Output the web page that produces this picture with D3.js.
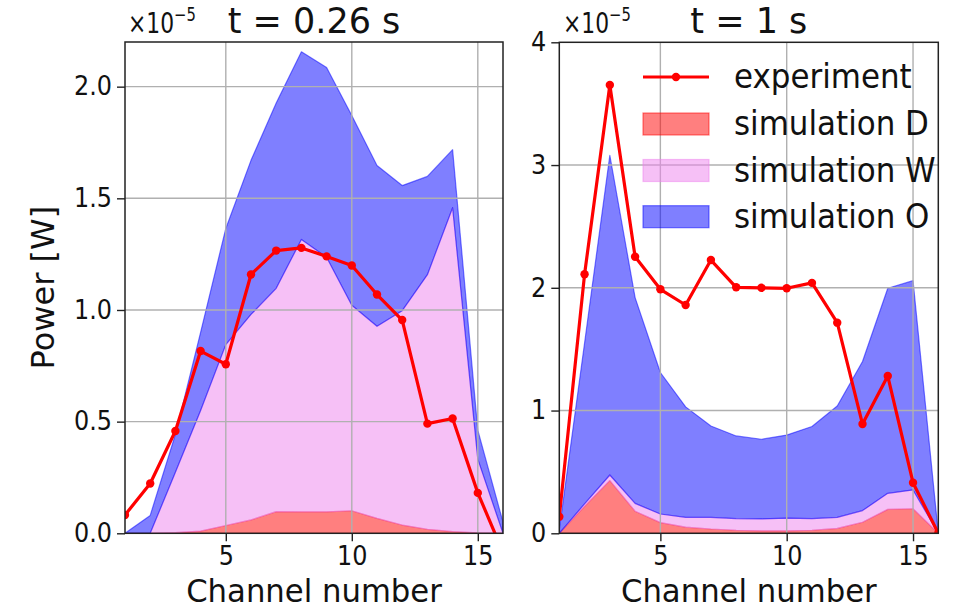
<!DOCTYPE html>
<html>
<head>
<meta charset="utf-8">
<script src="https://cdn.jsdelivr.net/npm/d3@7"></script>
<style>
  body { margin: 0; background: #fff; }
  svg { display: block; font-family: "DejaVu Sans", sans-serif; }
</style>
</head>
<body>
<svg id="chart" width="958" height="609"></svg>
<script>
// Power per channel, in units of 1e-5 W
const channels = [1, 2, 3, 4, 5, 6, 7, 8, 9, 10, 11, 12, 13, 14, 15, 16];

// t = 0.26 s
const earlyExperiment = [0.082, 0.223, 0.458, 0.816, 0.757, 1.159, 1.266, 1.278, 1.24, 1.199, 1.069, 0.955, 0.491, 0.514, 0.181, -0.085];
const earlySimD = [0, 0, 0.003, 0.01, 0.035, 0.06, 0.097, 0.096, 0.096, 0.101, 0.067, 0.037, 0.018, 0.008, 0.002, 0];
const earlySimW = [0, 0, 0.27, 0.54, 0.81, 0.92, 1.00, 1.22, 1.14, 0.92, 0.86, 0.96, 1.14, 1.45, 0.33, 0];
const earlySimO = [0, 0.08, 0.17, 0.35, 0.52, 0.69, 0.83, 0.84, 0.85, 0.85, 0.72, 0.56, 0.44, 0.26, 0.13, 0.05];

// t = 1 s
const lateExperiment = [0.135, 2.11, 3.652, 2.253, 1.988, 1.86, 2.226, 2.004, 2.0, 1.996, 2.04, 1.716, 0.89, 1.281, 0.412, 0.0];
const lateSimD = [0, 0.22, 0.43, 0.18, 0.087, 0.05, 0.035, 0.025, 0.02, 0.02, 0.025, 0.04, 0.09, 0.195, 0.2, 0];
const lateSimW = [0, 0.02, 0.045, 0.064, 0.07, 0.08, 0.095, 0.095, 0.097, 0.103, 0.095, 0.09, 0.095, 0.131, 0.153, 0];
const lateSimO = [0.03, 1.31, 2.605, 1.676, 1.153, 0.90, 0.744, 0.673, 0.649, 0.677, 0.75, 0.907, 1.215, 1.67, 1.705, 0];

const panelTitles = ["t = 0.26 s", "t = 1 s"];
const earlyYTicks = [0, 0.5, 1.0, 1.5, 2.0];
const lateYTicks = [0, 1, 2, 3, 4];
const xTicks = [5, 10, 15];
const legendLabels = ["experiment", "simulation D", "simulation W", "simulation O"];
const layerKeys = ["D", "W", "O"];

const colors = {
  experiment: "#ff0000",
  D: "#ff0000",
  W: "#ee82ee",
  O: "#0000ff"
};

const svg = d3.select("#chart");

// text helper: a slightly narrowed glyph set, anchored at (x, y)
function addText(parent, x, y, str, size, sx, anchor) {
  const holder = parent.append("g")
    .attr("transform", `translate(${x},${y}) scale(${sx},1)`);
  return holder.append("text")
    .attr("text-anchor", anchor || "start")
    .style("font-size", size + "px")
    .attr("fill", "#111")
    .text(str);
}

const panels = [
  {
    left: 125, right: 503, top: 42, bottom: 533.3,
    yMax: 2.2, yTicks: earlyYTicks, yFormat: d3.format(".1f"),
    title: panelTitles[0], experiment: earlyExperiment,
    layers: { D: earlySimD, W: earlySimW, O: earlySimO },
    yLabel: true, legend: false, offsetX: 128
  },
  {
    left: 559.3, right: 938.3, top: 42.3, bottom: 533.3,
    yMax: 4, yTicks: lateYTicks, yFormat: d3.format("d"),
    title: panelTitles[1], experiment: lateExperiment,
    layers: { D: lateSimD, W: lateSimW, O: lateSimO },
    yLabel: false, legend: true, offsetX: 563
  }
];

panels.forEach((p, i) => {
  const x = d3.scaleLinear().domain([1, 16]).range([p.left, p.right]);
  const y = d3.scaleLinear().domain([0, p.yMax]).range([p.bottom, p.top]);
  const g = svg.append("g");

  const clipId = "clip" + i;
  svg.append("clipPath").attr("id", clipId)
    .append("rect")
    .attr("x", p.left).attr("y", p.top)
    .attr("width", p.right - p.left).attr("height", p.bottom - p.top);

  // stacked simulation layers
  const rows = channels.map((ch, k) => ({
    ch, D: p.layers.D[k], W: p.layers.W[k], O: p.layers.O[k]
  }));
  const stacked = d3.stack().keys(layerKeys)(rows);
  const area = d3.area()
    .x(d => x(d.data.ch))
    .y0(d => y(d[0]))
    .y1(d => y(d[1]));

  const plot = g.append("g").attr("clip-path", `url(#${clipId})`);
  plot.selectAll("path.layer")
    .data(stacked)
    .join("path")
    .attr("class", "layer")
    .attr("d", area)
    .attr("fill", d => colors[d.key])
    .attr("fill-opacity", 0.5)
    .attr("stroke", d => colors[d.key])
    .attr("stroke-opacity", 0.5)
    .attr("stroke-width", 1.2)
    .attr("stroke-linejoin", "round");

  // grid
  const grid = g.append("g");
  grid.selectAll("line.vx")
    .data(xTicks).join("line")
    .attr("x1", d => x(d)).attr("x2", d => x(d))
    .attr("y1", p.top).attr("y2", p.bottom)
    .attr("stroke", "#b0b0b0").attr("stroke-width", 1.4);
  grid.selectAll("line.hy")
    .data(p.yTicks.filter(v => v > 0 && v < p.yMax)).join("line")
    .attr("x1", p.left).attr("x2", p.right)
    .attr("y1", d => y(d)).attr("y2", d => y(d))
    .attr("stroke", "#b0b0b0").attr("stroke-width", 1.4);

  // experiment line with markers
  const line = d3.line().x((d, k) => x(channels[k])).y(d => y(d));
  const exp = g.append("g").attr("clip-path", `url(#${clipId})`);
  exp.append("path")
    .attr("d", line(p.experiment))
    .attr("fill", "none")
    .attr("stroke", colors.experiment)
    .attr("stroke-width", 3.2)
    .attr("stroke-linejoin", "round");
  exp.selectAll("circle")
    .data(p.experiment).join("circle")
    .attr("cx", (d, k) => x(channels[k]))
    .attr("cy", d => y(d))
    .attr("r", 4.2)
    .attr("fill", colors.experiment);

  // axes
  const tickSx = 0.92;
  const xAxis = d3.axisBottom(x).tickValues(xTicks).tickSize(8).tickPadding(5);
  const yAxis = d3.axisLeft(y).tickValues(p.yTicks).tickFormat(p.yFormat).tickSize(8).tickPadding(5);

  const gx = g.append("g").attr("transform", `translate(0,${p.bottom})`).call(xAxis);
  const gy = g.append("g").attr("transform", `translate(${p.left},0)`).call(yAxis);
  [gx, gy].forEach(a => {
    a.select(".domain").remove();
    a.selectAll(".tick line").attr("stroke", "#222").attr("stroke-width", 1.4);
    a.selectAll(".tick text")
      .attr("fill", "#111")
      .style("font-size", "26px")
      .style("font-family", "DejaVu Sans, sans-serif")
      .attr("x", function () { return (+d3.select(this).attr("x") || 0) / tickSx; })
      .attr("transform", `scale(${tickSx},1)`);
  });

  // frame
  g.append("rect")
    .attr("x", p.left).attr("y", p.top)
    .attr("width", p.right - p.left).attr("height", p.bottom - p.top)
    .attr("fill", "none").attr("stroke", "#222").attr("stroke-width", 1.5);

  // axis labels
  addText(g, (p.left + p.right) / 2, 602, "Channel number", 32, 0.96, "middle");

  if (p.yLabel) {
    g.append("text")
      .attr("transform", `translate(54,${(p.top + p.bottom) / 2}) rotate(-90)`)
      .attr("text-anchor", "middle")
      .style("font-size", "32px").attr("fill", "#111")
      .text("Power [W]");
  }

  // title
  addText(g, (p.left + p.right) / 2, 32.5, p.title, 35, 1, "middle");

  // scale factor of the y axis
  const off = addText(g, p.offsetX, 33, "", 28, 0.78, "start");
  off.append("tspan").text("×10");
  off.append("tspan").attr("dy", -12).style("font-size", "19px").text("−5");

  if (p.legend) {
    const lg = g.append("g");
    const rowsY = [77, 124, 170.5, 216.7];
    const hx0 = 643, hx1 = 709, tx = 734;
    legendLabels.forEach((lab, k) => {
      const cy = rowsY[k];
      if (k === 0) {
        lg.append("line")
          .attr("x1", hx0).attr("x2", hx1).attr("y1", cy).attr("y2", cy)
          .attr("stroke", colors.experiment).attr("stroke-width", 3.2);
        lg.append("circle")
          .attr("cx", (hx0 + hx1) / 2).attr("cy", cy).attr("r", 4.2)
          .attr("fill", colors.experiment);
      } else {
        const key = layerKeys[k - 1];
        lg.append("rect")
          .attr("x", hx0).attr("y", cy - 11)
          .attr("width", hx1 - hx0).attr("height", 22)
          .attr("fill", colors[key]).attr("fill-opacity", 0.5)
          .attr("stroke", colors[key]).attr("stroke-opacity", 0.5)
          .attr("stroke-width", 1.2);
      }
      addText(lg, tx, cy + 11, lab, 34, 0.91, "start");
    });
  }
});
</script>
</body>
</html>
